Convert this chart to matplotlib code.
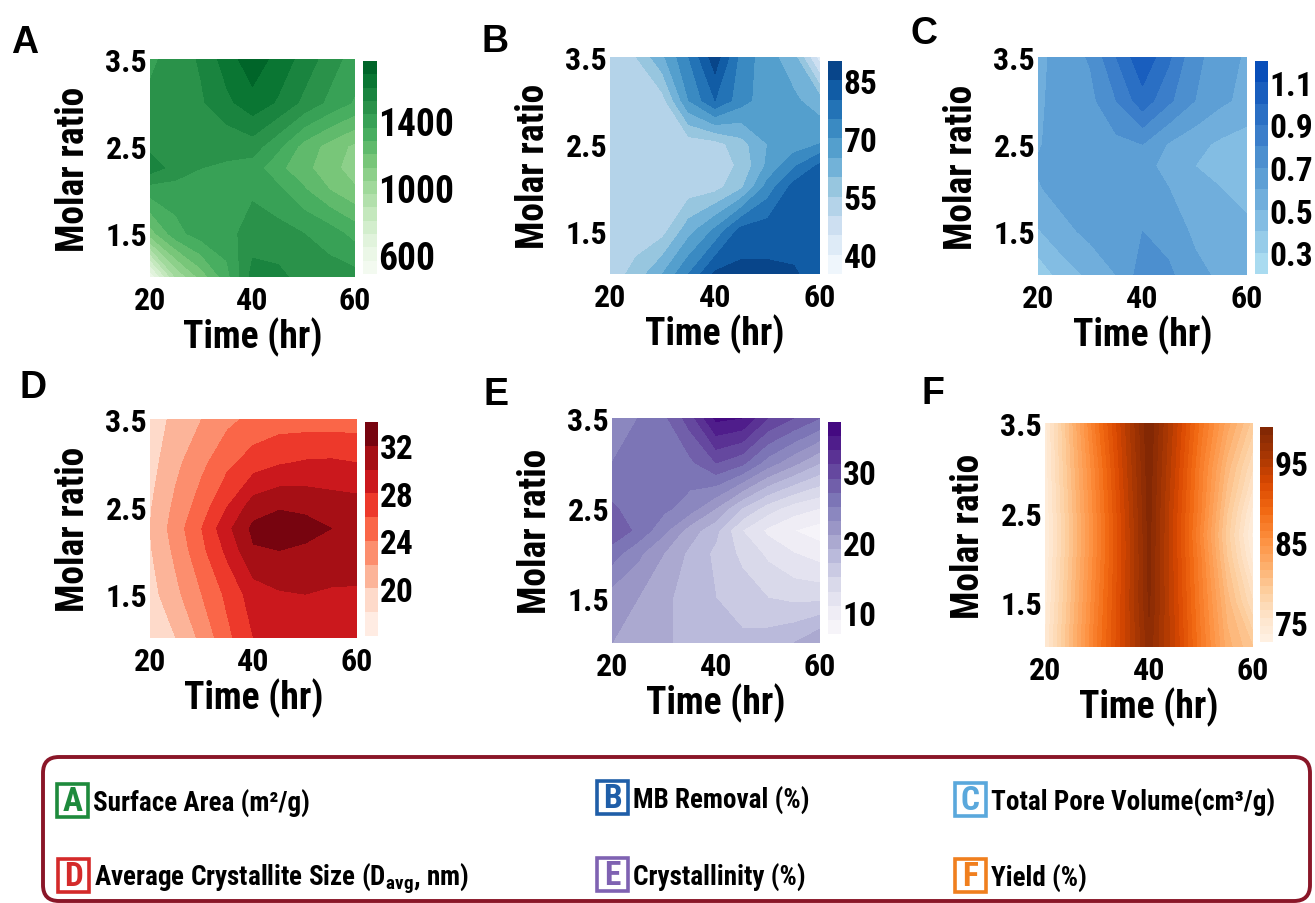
import numpy as np
import matplotlib
matplotlib.use("Agg")
import matplotlib.pyplot as plt
from matplotlib import font_manager
from matplotlib.colors import LinearSegmentedColormap, ListedColormap
from matplotlib.patches import FancyBboxPatch, Rectangle

# grid of the response surfaces
time_hr = [20, 25, 30, 35, 40, 45, 50, 55, 60]
molar_ratio = [1.0, 1.5, 2.0, 2.25, 2.5, 3.0, 3.5]

# rows = molar ratio (low -> high), cols = time
surface_area = [[560, 960, 1150, 1330, 1550, 1540, 1490, 1480, 1470],
                [1160, 1330, 1400, 1410, 1480, 1470, 1440, 1400, 1330],
                [1400, 1400, 1400, 1400, 1425, 1380, 1290, 1200, 1130],
                [1560, 1490, 1440, 1430, 1400, 1300, 1225, 1150, 1080],
                [1500, 1490, 1470, 1460, 1480, 1380, 1250, 1170, 1100],
                [1460, 1490, 1510, 1580, 1650, 1590, 1500, 1420, 1350],
                [1420, 1480, 1530, 1640, 1730, 1650, 1570, 1480, 1400]]

mb_removal = [[52, 57, 65, 75, 86, 86.5, 86, 85.5, 83],
              [52, 52, 53, 63, 71, 82, 83, 83, 83],
              [52, 52, 52, 52, 53, 59, 72, 82, 83],
              [52, 52, 52, 52, 52, 56, 66, 74, 81],
              [52, 52, 52, 52, 53, 58, 65, 67, 70],
              [52, 52, 53, 70, 80, 72, 67, 66, 62],
              [52, 55, 64, 75, 88, 73, 67, 62, 42]]

pore_volume = [[0.33, 0.45, 0.52, 0.60, 0.75, 0.72, 0.63, 0.58, 0.57],
               [0.49, 0.57, 0.63, 0.66, 0.70, 0.66, 0.58, 0.55, 0.52],
               [0.59, 0.65, 0.66, 0.65, 0.63, 0.60, 0.55, 0.50, 0.47],
               [0.61, 0.65, 0.65, 0.65, 0.62, 0.58, 0.50, 0.46, 0.43],
               [0.59, 0.65, 0.66, 0.67, 0.70, 0.59, 0.53, 0.48, 0.45],
               [0.58, 0.65, 0.67, 0.80, 0.96, 0.82, 0.70, 0.62, 0.57],
               [0.57, 0.65, 0.71, 0.90, 1.08, 0.92, 0.72, 0.66, 0.58]]

crystallite_size = [[18.3, 20.0, 22.5, 25.5, 28.0, 28.8, 29.0, 29.0, 29.0],
                    [19.2, 21.5, 24.0, 26.5, 29.0, 29.8, 30.0, 29.8, 29.8],
                    [19.8, 22.5, 25.5, 28.5, 31.8, 32.0, 31.6, 31.0, 30.8],
                    [20.0, 23.0, 26.0, 29.5, 32.5, 33.0, 32.8, 32.0, 31.0],
                    [19.8, 22.5, 25.0, 28.0, 31.0, 31.8, 31.5, 31.0, 30.8],
                    [19.2, 21.5, 23.5, 25.5, 27.0, 27.8, 28.2, 28.3, 28.0],
                    [19.0, 20.5, 22.0, 23.5, 24.5, 25.0, 25.0, 25.0, 25.0]]

crystallinity = [[21.0, 21.0, 19.5, 18.0, 17.5, 17.5, 18.0, 19.0, 21.0],
                 [22.0, 21.0, 19.5, 18.0, 17.0, 16.0, 15.0, 14.5, 14.5],
                 [26.0, 23.5, 21.0, 18.5, 16.5, 14.5, 12.5, 11.0, 10.0],
                 [28.5, 26.5, 23.5, 20.0, 17.5, 13.0, 10.5, 9.0, 8.0],
                 [27.3, 26.0, 25.5, 24.0, 21.0, 17.0, 14.0, 12.0, 11.0],
                 [25.0, 26.0, 26.0, 26.5, 29.0, 27.5, 24.0, 21.5, 19.0],
                 [23.0, 25.0, 26.5, 30.0, 35.5, 35.0, 31.0, 29.0, 27.0]]

yield_pct = [[74.5, 81.0, 87.5, 93.0, 98.1, 93.5, 87.5, 82.0, 79.5],
             [74.0, 80.5, 87.0, 93.0, 98.7, 93.2, 87.0, 81.0, 76.5],
             [73.5, 80.0, 86.5, 92.8, 98.8, 93.0, 86.5, 79.5, 74.0],
             [73.3, 80.0, 86.5, 92.8, 98.9, 93.0, 86.0, 79.0, 73.2],
             [73.5, 80.0, 86.5, 93.0, 99.0, 93.0, 86.5, 79.5, 74.0],
             [73.8, 80.5, 87.0, 93.5, 99.2, 93.5, 87.0, 81.0, 76.5],
             [74.0, 81.0, 88.0, 94.0, 99.5, 94.0, 88.0, 83.0, 79.0]]

xticks = [20, 40, 60]
yticks = [1.5, 2.5, 3.5]

legend_items = [("A", "Surface Area (m²/g)", "#1e8a3c"),
                ("B", "MB Removal (%)", "#1f5ea8"),
                ("C", "Total Pore Volume(cm³/g)", "#5aa8dc"),
                ("D", "Average Crystallite Size (D$_{\\mathrm{avg}}$, nm)", "#d42a2a"),
                ("E", "Crystallinity (%)", "#7f62b2"),
                ("F", "Yield (%)", "#f07f1e")]

# pick a narrow bold face (the figure uses an Arial Narrow look)
avail = {f.name for f in font_manager.fontManager.ttflist}
narrow = next((f for f in ["Roboto Condensed", "Archivo Narrow", "PT Sans Narrow",
                           "Asap Condensed", "Liberation Sans"] if f in avail), "DejaVu Sans")
plt.rcParams["font.family"] = [narrow, "DejaVu Sans"]
plt.rcParams["font.weight"] = "bold"
plt.rcParams["axes.labelweight"] = "bold"
plt.rcParams["mathtext.fontset"] = "custom"
plt.rcParams["mathtext.rm"] = narrow + ":bold"
plt.rcParams["mathtext.bf"] = narrow + ":bold"
plt.rcParams["mathtext.it"] = narrow + ":bold"

W, H = 1315, 904
fig = plt.figure(figsize=(W / 100, H / 100), dpi=100)


def box(x0, y0, x1, y1):
    return [x0 / W, 1 - y1 / H, (x1 - x0) / W, (y1 - y0) / H]


def cut(name, lo, hi):
    return ListedColormap(plt.get_cmap(name)(np.linspace(lo, hi, 256)))


def panel(z, axbox, cbbox, cmap, levels, cticks, ctlabels, letter, lpos, cbsize=24):
    ax = fig.add_axes(box(*axbox))
    cs = ax.contourf(time_hr, molar_ratio, np.array(z), levels=levels, cmap=cmap)
    ax.set_xlim(20, 60)
    ax.set_ylim(1.0, 3.5)
    ax.set_xticks(xticks)
    ax.set_yticks(yticks)
    ax.set_yticklabels(["1.5", "2.5", "3.5"])
    ax.tick_params(length=0, labelsize=23)
    ax.tick_params(axis="x", pad=6)
    ax.tick_params(axis="y", pad=2)
    for s in ax.spines.values():
        s.set_visible(False)
    ax.set_xlabel("Time (hr)", fontsize=27, labelpad=1)
    ax.set_ylabel("Molar ratio", fontsize=27, labelpad=10)
    cax = fig.add_axes(box(*cbbox))
    cb = fig.colorbar(cs, cax=cax, ticks=cticks)
    cb.outline.set_visible(False)
    cb.ax.set_yticklabels(ctlabels)
    cb.ax.tick_params(length=0, labelsize=cbsize, pad=1)
    fig.text(lpos[0] / W, 1 - lpos[1] / H, letter, fontsize=27, fontweight="bold",
             family=["Liberation Sans", "DejaVu Sans"], ha="left", va="top")
    return ax


c_cmap = LinearSegmentedColormap.from_list("pv", [(0.0, "#b2e2f3"), (0.45, "#5d9fd5"),
                                                  (1.0, "#0046b6")])

panel(surface_area, (150, 60, 355, 278), (363, 62, 377, 275), cut("Greens", 0.0, 0.92),
      np.arange(480, 1761, 80), [600, 1000, 1400], ["600", "1000", "1400"], "A", (11, 25),
      cbsize=27)
panel(mb_removal, (610, 58, 820, 275), (828, 62, 842, 275), cut("Blues", 0.0, 0.96),
      np.arange(35, 91, 5), [40, 55, 70, 85], ["40", "55", "70", "85"], "B", (481, 24))
panel(pore_volume, (1038, 58, 1247, 276), (1255, 62, 1268, 275), c_cmap,
      np.arange(0.2, 1.25, 0.1), [0.3, 0.5, 0.7, 0.9, 1.1],
      ["0.3", "0.5", "0.7", "0.9", "1.1"], "C", (911, 16))
panel(crystallite_size, (150, 420, 357, 639), (365, 423, 378, 637), cut("Reds", 0.03, 1.0),
      [17, 18, 20, 22, 24, 26, 28, 30, 32, 33.2], [20, 24, 28, 32],
      ["20", "24", "28", "32"], "D", (19, 370))
panel(crystallinity, (612, 419, 820, 644), (828, 423, 841, 635), cut("Purples", 0.03, 1.0),
      np.arange(7, 38, 2), [10, 20, 30], ["10", "20", "30"], "E", (484, 377))
panel(yield_pct, (1045, 424, 1253, 648), (1260, 428, 1273, 643), cut("Oranges", 0.03, 1.0),
      np.arange(72.5, 100, 1.0), [75, 85, 95], ["75", "85", "95"], "F", (922, 376))

# legend box at the bottom, drawn in pixel coordinates
lg = fig.add_axes([0, 0, 1, 1])
lg.set_xlim(0, W)
lg.set_ylim(H, 0)
lg.axis("off")
lg.patch.set_visible(False)
lg.add_patch(FancyBboxPatch((43, 758), 1267, 144, boxstyle="round,pad=0,rounding_size=16",
                            fill=False, edgecolor="#8a1628", lw=2.8))

spots = [(57, 801), (597, 798), (955, 800), (58, 876), (597, 875), (955, 876)]
for (letter, label, col), (x, y) in zip(legend_items, spots):
    lg.add_patch(Rectangle((x, y - 16), 31, 33, facecolor="white", edgecolor=col, lw=2.6))
    lg.text(x + 15.5, y + 1, letter, color=col, fontsize=24, fontweight="bold",
            ha="center", va="center")
    lg.text(x + 36, y + 3, label, color="black", fontsize=19.5, fontweight="bold",
            ha="left", va="center")

fig.savefig("out.png", dpi=100)
